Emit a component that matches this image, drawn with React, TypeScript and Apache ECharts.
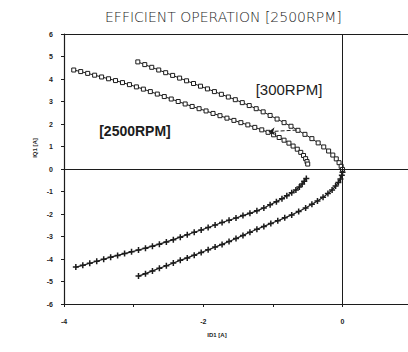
import React, { useEffect, useRef } from "react";
import * as echarts from "echarts";

const titleText = "EFFICIENT OPERATION [2500RPM]";
const xName = "ID1 [A]";
const yName = "IQ1 [A]";
const label300 = "[300RPM]";
const label2500 = "[2500RPM]";

// 2500 RPM, positive IQ branch (squares)
const upper2500: number[][] = [
  [-3.86, 4.4], [-3.76, 4.33], [-3.66, 4.25], [-3.56, 4.17], [-3.46, 4.09], [-3.36, 4.01],
  [-3.26, 3.93], [-3.16, 3.84], [-3.06, 3.75], [-2.96, 3.65], [-2.86, 3.55], [-2.76, 3.44],
  [-2.66, 3.33], [-2.56, 3.22], [-2.46, 3.11], [-2.36, 3.0], [-2.26, 2.89], [-2.16, 2.78],
  [-2.06, 2.68], [-1.96, 2.58], [-1.86, 2.47], [-1.76, 2.37], [-1.66, 2.26], [-1.56, 2.16],
  [-1.46, 2.06], [-1.36, 1.96], [-1.26, 1.85], [-1.16, 1.74], [-1.07, 1.63], [-0.99, 1.52],
  [-0.91, 1.4], [-0.84, 1.28], [-0.77, 1.15], [-0.71, 1.02], [-0.65, 0.88], [-0.6, 0.74],
  [-0.56, 0.6], [-0.53, 0.46], [-0.51, 0.33], [-0.5, 0.22],
];

// 300 RPM, positive IQ branch (squares)
const upper300: number[][] = [
  [-2.94, 4.76], [-2.84, 4.64], [-2.74, 4.52], [-2.64, 4.4], [-2.54, 4.28], [-2.44, 4.16],
  [-2.34, 4.04], [-2.24, 3.92], [-2.14, 3.8], [-2.04, 3.68], [-1.94, 3.56], [-1.84, 3.44],
  [-1.74, 3.32], [-1.64, 3.2], [-1.54, 3.08], [-1.44, 2.95], [-1.34, 2.82], [-1.24, 2.68],
  [-1.14, 2.54], [-1.04, 2.38], [-0.94, 2.22], [-0.84, 2.06], [-0.74, 1.9], [-0.64, 1.72],
  [-0.54, 1.54], [-0.44, 1.35], [-0.35, 1.16], [-0.27, 0.98], [-0.2, 0.8], [-0.14, 0.62],
  [-0.09, 0.45], [-0.05, 0.28], [-0.02, 0.12], [0.0, -0.02],
];

// 2500 RPM, negative IQ branch (crosses)
const lower2500: number[][] = [
  [-3.83, -4.36], [-3.73, -4.28], [-3.63, -4.19], [-3.53, -4.1], [-3.43, -4.01], [-3.33, -3.92],
  [-3.23, -3.84], [-3.13, -3.76], [-3.03, -3.68], [-2.93, -3.6], [-2.83, -3.52], [-2.73, -3.43],
  [-2.63, -3.34], [-2.53, -3.24], [-2.43, -3.14], [-2.33, -3.03], [-2.23, -2.92], [-2.13, -2.81],
  [-2.03, -2.71], [-1.93, -2.6], [-1.83, -2.49], [-1.73, -2.38], [-1.63, -2.28], [-1.53, -2.18],
  [-1.43, -2.07], [-1.33, -1.97], [-1.23, -1.86], [-1.13, -1.73], [-1.04, -1.59], [-0.95, -1.45],
  [-0.87, -1.32], [-0.8, -1.19], [-0.73, -1.06], [-0.67, -0.93], [-0.62, -0.8], [-0.58, -0.67],
  [-0.55, -0.54], [-0.52, -0.42],
];

// 300 RPM, negative IQ branch (crosses)
const lower300: number[][] = [
  [-2.93, -4.76], [-2.83, -4.65], [-2.73, -4.53], [-2.63, -4.41], [-2.53, -4.3], [-2.43, -4.18],
  [-2.33, -4.06], [-2.23, -3.95], [-2.13, -3.83], [-2.03, -3.71], [-1.93, -3.59], [-1.83, -3.47],
  [-1.73, -3.35], [-1.63, -3.22], [-1.53, -3.09], [-1.43, -2.95], [-1.33, -2.81], [-1.23, -2.68],
  [-1.13, -2.55], [-1.03, -2.42], [-0.93, -2.3], [-0.83, -2.17], [-0.73, -2.04], [-0.63, -1.89],
  [-0.53, -1.73], [-0.44, -1.57], [-0.36, -1.42], [-0.28, -1.26], [-0.21, -1.09], [-0.15, -0.93],
  [-0.1, -0.76], [-0.06, -0.6], [-0.03, -0.44], [-0.01, -0.28], [0.0, -0.14],
];

const arrowFrom = [-0.66, 1.73];
const arrowTo = [-1.06, 1.66];

const INK = "#1c1c1c";
const PLUS = "path://M1.5,0H2.5V1.5H4V2.5H2.5V4H1.5V2.5H0V1.5H1.5Z";

export default function App() {
  const ref = useRef<HTMLDivElement>(null);
  useEffect(() => {
    if (!ref.current) return;
    const chart = echarts.init(ref.current, undefined, { renderer: "svg" });
    const squareSeries = (name: string, data: number[][], extra: any = {}) => ({
      name,
      type: "line",
      data,
      symbol: "rect",
      symbolSize: 4,
      showSymbol: true,
      lineStyle: { color: INK, width: 1 },
      itemStyle: { color: "#fff", borderColor: INK, borderWidth: 1 },
      z: 3,
      ...extra,
    });
    const crossSeries = (name: string, data: number[][]) => ({
      name,
      type: "line",
      data,
      symbol: PLUS,
      symbolSize: 6,
      showSymbol: true,
      lineStyle: { color: INK, width: 1.2 },
      itemStyle: { color: INK },
      z: 3,
    });
    chart.setOption({
      animation: false,
      backgroundColor: "#fff",
      title: {
        text: titleText,
        left: 100,
        top: 5,
        textStyle: {
          fontFamily: "DejaVu Sans",
          fontSize: 14,
          fontWeight: 200,
          color: INK,
        },
      },
      grid: { left: 64, right: 0, top: 34, bottom: 48 },
      xAxis: [
        {
          type: "value",
          min: -4,
          max: 0.94,
          interval: 1,
          position: "bottom",
          splitLine: { show: false },
          axisLine: { onZero: false, lineStyle: { color: INK, width: 1.2 } },
          axisTick: { show: true, length: 3, lineStyle: { color: INK } },
          axisLabel: {
            color: INK,
            fontSize: 7,
            fontWeight: "bold",
            fontFamily: "Liberation Sans",
            margin: 14,
            showMaxLabel: false,
            formatter: (v: number) => (Math.round(v) % 2 === 0 ? String(Math.round(v)) : ""),
          },
        },
        {
          type: "value",
          min: -4,
          max: 0.94,
          position: "top",
          splitLine: { show: false },
          axisLine: { show: true, onZero: false, lineStyle: { color: INK, width: 1.2 } },
          axisTick: { show: false },
          axisLabel: { show: false },
        },
      ],
      yAxis: {
        type: "value",
        min: -6,
        max: 6,
        interval: 1,
        splitLine: { show: false },
        axisLine: { onZero: false, lineStyle: { color: INK, width: 1.2 } },
        axisTick: { show: true, length: 3, lineStyle: { color: INK } },
        axisLabel: {
          color: INK,
          fontSize: 7,
          fontWeight: "bold",
          fontFamily: "Liberation Sans",
          margin: 11,
        },
      },
      graphic: [
        {
          type: "text",
          x: 35,
          y: 148,
          rotation: Math.PI / 2,
          style: {
            text: yName,
            fill: INK,
            font: "bold 6px Liberation Sans",
            textAlign: "center",
            textVerticalAlign: "middle",
          },
        },
        {
          type: "text",
          x: 217,
          y: 335,
          style: {
            text: xName,
            fill: INK,
            font: "bold 6px Liberation Sans",
            textAlign: "center",
            textVerticalAlign: "middle",
          },
        },
        {
          type: "text",
          x: 289,
          y: 89,
          style: {
            text: label300,
            fill: INK,
            font: "15px Liberation Sans",
            textAlign: "center",
            textVerticalAlign: "middle",
          },
        },
        {
          type: "text",
          x: 135,
          y: 131,
          style: {
            text: label2500,
            fill: INK,
            font: "bold 14px Liberation Sans",
            textAlign: "center",
            textVerticalAlign: "middle",
          },
        },
      ],
      series: [
        squareSeries("2500RPM +", upper2500, {
          markLine: {
            silent: true,
            symbol: "none",
            label: { show: false },
            lineStyle: { color: INK, width: 1, type: "solid" },
            data: [{ xAxis: 0 }, { yAxis: 0 }],
          },
        }),
        squareSeries("300RPM +", upper300, {
          markLine: {
            silent: true,
            symbol: ["none", "arrow"],
            symbolSize: 6,
            label: { show: false },
            lineStyle: { color: INK, width: 1, type: "dashed" },
            data: [[{ coord: arrowFrom }, { coord: arrowTo }]],
          },
        }),
        crossSeries("2500RPM -", lower2500),
        crossSeries("300RPM -", lower300),
      ],
    });
    return () => chart.dispose();
  }, []);
  return (
    <div
      ref={ref}
      style={{ position: "fixed", left: 0, top: 0, width: 408, height: 352 }}
    />
  );
}
